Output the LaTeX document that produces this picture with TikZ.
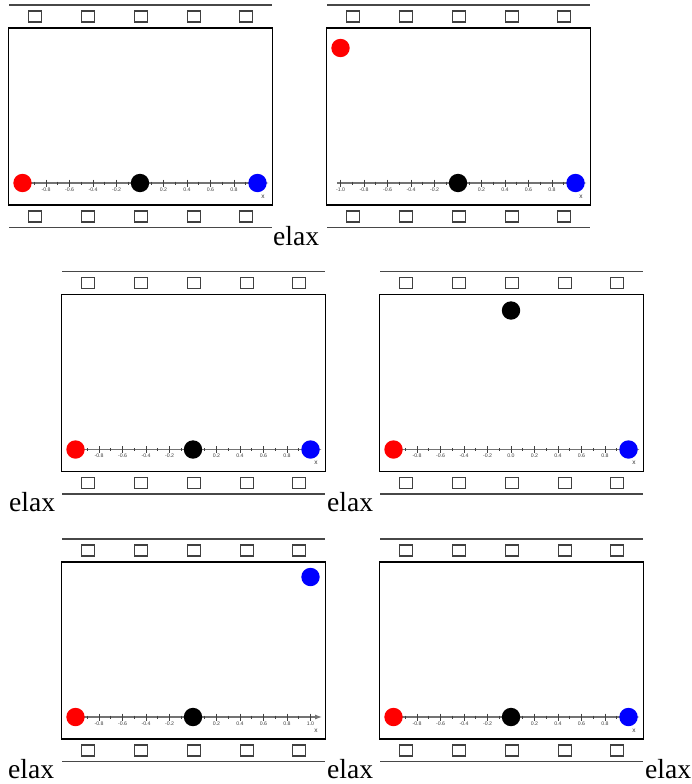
\documentclass[tikz,border=0pt]{standalone}
\usepackage{fontspec}
\setmainfont{Liberation Serif}
\newfontfamily\axisfont{Liberation Sans}
\usetikzlibrary{arrows.meta}
\tikzset{
  filmline/.style={draw=black!72, line width=1.7pt},
  hole/.style={draw=black!75, line width=1.4pt},
  screen/.style={draw=black, line width=1.4pt},
  axisline/.style={draw=black!55, line width=1.1pt},
  majortick/.style={draw=black!75, line width=0.7pt},
  minortick/.style={draw=black!75, line width=0.7pt},
  ticklabel/.style={inner sep=0pt, text=black!75, font=\axisfont\fontsize{5.2}{6}\selectfont},
  xlabel/.style={inner sep=0pt, text=black!80, font=\axisfont\fontsize{6.5}{7}\selectfont},
  elaxtext/.style={inner sep=0pt, anchor=base west, font=\fontsize{27.6}{30}\selectfont},
  ball/.style={line width=0pt}
}
\newcommand\filmframe[5]{%
  \begin{scope}[shift={(#1,#2)}]
    \draw[filmline] (9,5) -- (272,5);
    \foreach \c in {35,88,141,194,246} {
      \draw[hole] (\c-6.5,11) rectangle (\c+6.5,22);
      \draw[hole] (\c-6.5,211) rectangle (\c+6.5,222);
    }
    \draw[screen] (8.5,28) rectangle (272.5,205);
    \draw[filmline] (9,227.5) -- (272,227.5);
    \draw[axisline,-{Latex[length=7pt,width=5pt]}] (19,183) -- (269,183);
    \foreach \i in {-5,...,4} {
      \draw[minortick] ({140+23.5*\i+11.75},181.5) -- ({140+23.5*\i+11.75},184.5);
    }
    \foreach \i/\t in {-5/-1.0,-4/-0.8,-3/-0.6,-2/-0.4,-1/-0.2,0/0.0,1/0.2,2/0.4,3/0.6,4/0.8,5/1.0} {
      \draw[majortick] ({140+23.5*\i},179.5) -- ({140+23.5*\i},186.5);
      \node[ticklabel] at ({140+23.5*\i},189.5) {\t};
    }
    \node[xlabel] at (263,196.5) {x};
    \fill[red,ball] (22.5,#3) circle (9.2);
    \fill[black,ball] (140,#4) circle (9.2);
    \fill[blue,ball] (257.5,#5) circle (9.2);
  \end{scope}}
\begin{document}
\begin{tikzpicture}[x=1pt,y=-1pt]
  \useasboundingbox (0,0) rectangle (691,784);
  \fill[white] (0,0) rectangle (691,784);
  \filmframe{0}{0}{183}{183}{183}
  \filmframe{318}{0}{48}{183}{183}
  \filmframe{53}{266.5}{183}{183}{183}
  \filmframe{371}{266.5}{183}{44}{183}
  \filmframe{53}{534}{183}{183}{43}
  \filmframe{371}{534}{183}{183}{183}
  \node[elaxtext] (e1) at (273,245) {elax};
  \node[elaxtext] (e2) at (9,511.5) {elax};
  \node[elaxtext] (e3) at (327,511.5) {elax};
  \node[elaxtext] (e4) at (8,778) {elax};
  \node[elaxtext] (e5) at (327,778) {elax};
  \node[elaxtext] (e6) at (645,778) {elax};
\end{tikzpicture}
\end{document}
